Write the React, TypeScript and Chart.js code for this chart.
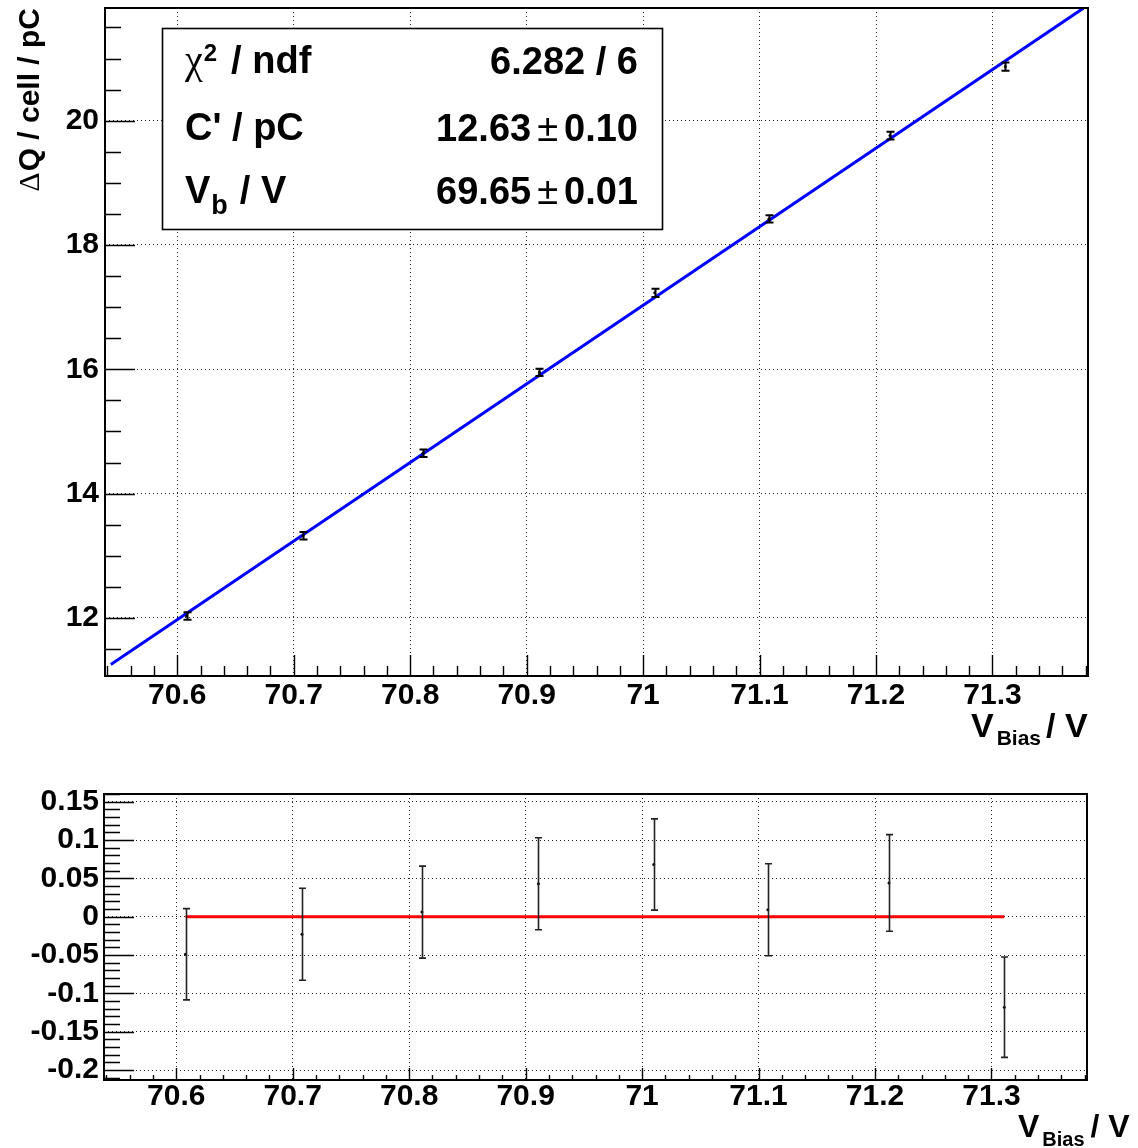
import React, { useEffect, useRef } from 'react';
import { Chart, registerables } from 'chart.js';

Chart.register(...registerables);

// ---------- data ----------
const vBias = [70.608, 70.708, 70.811, 70.911, 71.01, 71.108, 71.212, 71.311];
const deltaQ = [12.03, 13.32, 14.65, 15.95, 17.23, 18.42, 19.76, 20.87];
const deltaQErr = [0.06, 0.06, 0.06, 0.06, 0.065, 0.06, 0.063, 0.065];
const residuals = [-0.049, -0.023, 0.006, 0.043, 0.068, 0.009, 0.044, -0.118];
const residualErr = [0.0595, 0.06, 0.06, 0.06, 0.0595, 0.06, 0.063, 0.0655];

const fitLineX = [70.543, 71.378];
const fitLineY = [11.25, 21.81];
const zeroLineX = [70.608, 71.311];
const zeroLineY = [0, 0];

const xTicks = [70.6, 70.7, 70.8, 70.9, 71.0, 71.1, 71.2, 71.3];
const xTickLabels = ['70.6', '70.7', '70.8', '70.9', '71', '71.1', '71.2', '71.3'];
const topYTicks = [12, 14, 16, 18, 20];
const topYTickLabels = ['12', '14', '16', '18', '20'];
const resYTicks = [-0.2, -0.15, -0.1, -0.05, 0, 0.05, 0.1, 0.15];
const resYTickLabels = ['-0.2', '-0.15', '-0.1', '-0.05', '0', '0.05', '0.1', '0.15'];

const xRange = [70.538, 71.382];
const topYRange = [11.065, 21.813];
const resYRange = [-0.213, 0.16];

const statValues = ['6.282 / 6', '12.63 ± 0.10', '69.65 ± 0.01'];
const yTitle = ['Δ', 'Q / cell / pC'];

const SANS = '"Liberation Sans", Arial, Helvetica, sans-serif';
const SERIF = '"Liberation Serif", "Times New Roman", serif';

function axisOpts(
  min: number,
  max: number,
  ticks: number[],
  labels: string[],
  sizeKey: 'width' | 'height',
  size: number,
  pad: number
) {
  return {
    type: 'linear',
    min,
    max,
    afterBuildTicks: (s: any) => {
      s.ticks = ticks.map((v) => ({ value: v }));
    },
    afterFit: (s: any) => {
      s[sizeKey] = size;
      s.paddingTop = 0;
      s.paddingBottom = 0;
      s.paddingLeft = 0;
      s.paddingRight = 0;
    },
    ticks: {
      autoSkip: false,
      maxRotation: 0,
      minRotation: 0,
      padding: pad,
      color: '#000',
      font: { family: SANS, size: 30, weight: 'bold' },
      callback: (v: number) => {
        const i = ticks.findIndex((t) => Math.abs(t - v) < 1e-9);
        return i >= 0 ? labels[i] : '';
      },
    },
    grid: { drawTicks: false, color: '#222', lineWidth: 1 },
    border: { display: false, dash: [1, 3] },
  };
}

interface DecorOpts {
  xMinor: number;
  xMajor: number;
  yMinor: number;
  yMajor: number;
  xMajLen: number;
  xMinLen: number;
  yMajLen: number;
  yMinLen: number;
  ex: number[];
  ey: number[];
  ee: number[];
  cap: number;
  errWidth: number;
  errColor: string;
  title: { x: number; base: number; big: number; sub: number; subDrop: number; gap1: number; gap2: number };
  stats: boolean;
  yTitle: boolean;
}

function decorPlugin(o: DecorOpts) {
  return {
    id: 'decor',
    afterDatasetsDraw(chart: any) {
      const ctx: CanvasRenderingContext2D = chart.ctx;
      const a = chart.chartArea;
      const xs = chart.scales.x;
      const ys = chart.scales.y;

      // error bars
      ctx.save();
      ctx.beginPath();
      ctx.rect(a.left, a.top, a.right - a.left, a.bottom - a.top);
      ctx.clip();
      ctx.strokeStyle = o.errColor;
      ctx.lineWidth = o.errWidth;
      ctx.beginPath();
      for (let i = 0; i < o.ex.length; i++) {
        const px = Math.round(xs.getPixelForValue(o.ex[i])) + 0.5;
        const y1 = ys.getPixelForValue(o.ey[i] + o.ee[i]);
        const y2 = ys.getPixelForValue(o.ey[i] - o.ee[i]);
        ctx.moveTo(px, y1);
        ctx.lineTo(px, y2);
        ctx.moveTo(px - o.cap, y1);
        ctx.lineTo(px + o.cap, y1);
        ctx.moveTo(px - o.cap, y2);
        ctx.lineTo(px + o.cap, y2);
      }
      ctx.stroke();
      ctx.restore();

      // inward tick marks
      ctx.save();
      ctx.strokeStyle = '#000';
      ctx.lineWidth = 1.4;
      ctx.beginPath();
      const xn0 = Math.ceil(xs.min / o.xMinor - 1e-6);
      const xn1 = Math.floor(xs.max / o.xMinor + 1e-6);
      for (let n = xn0; n <= xn1; n++) {
        const v = n * o.xMinor;
        const r = v / o.xMajor;
        const major = Math.abs(r - Math.round(r)) < 1e-6;
        const px = Math.round(xs.getPixelForValue(v)) + 0.5;
        ctx.moveTo(px, a.bottom);
        ctx.lineTo(px, a.bottom - (major ? o.xMajLen : o.xMinLen));
      }
      const yn0 = Math.ceil(ys.min / o.yMinor - 1e-6);
      const yn1 = Math.floor(ys.max / o.yMinor + 1e-6);
      for (let n = yn0; n <= yn1; n++) {
        const v = n * o.yMinor;
        const r = v / o.yMajor;
        const major = Math.abs(r - Math.round(r)) < 1e-6;
        const py = Math.round(ys.getPixelForValue(v)) + 0.5;
        ctx.moveTo(a.left, py);
        ctx.lineTo(a.left + (major ? o.yMajLen : o.yMinLen), py);
      }
      ctx.stroke();
      // frame
      ctx.lineWidth = 2;
      ctx.strokeRect(a.left, a.top, a.right - a.left, a.bottom - a.top);
      ctx.restore();
    },
    afterDraw(chart: any) {
      const ctx: CanvasRenderingContext2D = chart.ctx;
      const a = chart.chartArea;
      ctx.save();
      ctx.fillStyle = '#000';
      ctx.textAlign = 'left';
      ctx.textBaseline = 'alphabetic';

      // x axis title: V_Bias / V
      const t = o.title;
      ctx.font = `bold ${t.big}px ${SANS}`;
      ctx.fillText('V', t.x, t.base);
      let cx = t.x + ctx.measureText('V').width + t.gap1;
      ctx.font = `bold ${t.sub}px ${SANS}`;
      ctx.fillText('Bias', cx, t.base + t.subDrop);
      cx += ctx.measureText('Bias').width + t.gap2;
      ctx.font = `bold ${t.big}px ${SANS}`;
      ctx.fillText('/ V', cx, t.base);

      if (o.yTitle) {
        ctx.save();
        ctx.translate(39, a.top);
        ctx.rotate(-Math.PI / 2);
        ctx.textAlign = 'left';
        ctx.font = `bold 30px ${SANS}`;
        const wRest = ctx.measureText(yTitle[1]).width;
        ctx.font = `30px ${SERIF}`;
        const wD = ctx.measureText(yTitle[0]).width;
        const start = -(wRest + wD + 1);
        ctx.fillText(yTitle[0], start, 0);
        ctx.font = `bold 30px ${SANS}`;
        ctx.fillText(yTitle[1], start + wD + 1, 0);
        ctx.restore();
      }

      if (o.stats) {
        const bx = a.left + 57;
        const by = a.top + 20;
        const bw = 500;
        const bh = 201;
        ctx.fillStyle = '#fff';
        ctx.fillRect(bx, by, bw, bh);
        ctx.strokeStyle = '#000';
        ctx.lineWidth = 1.6;
        ctx.strokeRect(bx + 0.5, by + 0.5, bw, bh);
        ctx.fillStyle = '#000';
        const lx = bx + 23;
        const bases = [by + 45, by + 112, by + 175];
        // row 1: chi^2 / ndf
        ctx.font = `40px ${SERIF}`;
        ctx.fillText('χ', lx, bases[0]);
        let px = lx + ctx.measureText('χ').width + 1;
        ctx.font = `bold 24px ${SANS}`;
        ctx.fillText('2', px, bases[0] - 12);
        px += ctx.measureText('2').width + 4;
        ctx.font = `bold 38px ${SANS}`;
        ctx.fillText('/ ndf', px + 10, bases[0]);
        // row 2
        ctx.fillText("C' / pC", lx, bases[1]);
        // row 3
        ctx.fillText('V', lx, bases[2]);
        px = lx + ctx.measureText('V').width + 1;
        ctx.font = `bold 27px ${SANS}`;
        ctx.fillText('b', px, bases[2] + 11);
        px += ctx.measureText('b').width + 6;
        ctx.font = `bold 38px ${SANS}`;
        ctx.fillText('/ V', px + 6, bases[2]);

        // values, right aligned
        const rx = bx + 476;
        ctx.textAlign = 'right';
        ctx.fillText(statValues[0], rx, bases[0] + 1);
        for (let r = 1; r < 3; r++) {
          const [left, right] = statValues[r].split(' ± ');
          ctx.font = `bold 38px ${SANS}`;
          ctx.fillText(right, rx, bases[r] + 1);
          const wr = ctx.measureText(right).width;
          ctx.font = `38px ${SANS}`;
          ctx.fillText('±', rx - wr - 6, bases[r] + 1);
          const wp = ctx.measureText('±').width;
          ctx.font = `bold 38px ${SANS}`;
          ctx.fillText(left, rx - wr - 6 - wp - 6, bases[r] + 1);
        }
      }
      ctx.restore();
    },
  };
}

function topConfig(): any {
  return {
    type: 'scatter',
    data: {
      datasets: [
        {
          label: 'fit',
          data: fitLineX.map((x, i) => ({ x, y: fitLineY[i] })),
          showLine: true,
          borderColor: '#0000ff',
          borderWidth: 3,
          pointRadius: 0,
          order: 2,
        },
        {
          label: 'data',
          data: vBias.map((x, i) => ({ x, y: deltaQ[i] })),
          showLine: false,
          pointRadius: 1.5,
          pointBackgroundColor: '#000',
          pointBorderWidth: 0,
          order: 1,
        },
      ],
    },
    options: {
      responsive: false,
      animation: false,
      events: [],
      layout: { padding: { left: 0, top: 8, right: 50, bottom: 0 } },
      plugins: { legend: { display: false }, tooltip: { enabled: false } },
      scales: {
        x: axisOpts(xRange[0], xRange[1], xTicks, xTickLabels, 'height', 84, 2),
        y: axisOpts(topYRange[0], topYRange[1], topYTicks, topYTickLabels, 'width', 105, 6),
      },
    },
    plugins: [
      decorPlugin({
        xMinor: 0.02,
        xMajor: 0.1,
        yMinor: 0.5,
        yMajor: 2,
        xMajLen: 21,
        xMinLen: 10,
        yMajLen: 30,
        yMinLen: 16,
        ex: vBias,
        ey: deltaQ,
        ee: deltaQErr,
        cap: 4,
        errWidth: 2,
        errColor: '#000',
        title: { x: 971, base: 737, big: 34, sub: 21, subDrop: 8, gap1: 3, gap2: 5 },
        stats: true,
        yTitle: true,
      }),
    ],
  };
}

function botConfig(): any {
  return {
    type: 'scatter',
    data: {
      datasets: [
        {
          label: 'zero',
          data: zeroLineX.map((x, i) => ({ x, y: zeroLineY[i] })),
          showLine: true,
          borderColor: '#ff0000',
          borderWidth: 3,
          pointRadius: 0,
          order: 2,
        },
        {
          label: 'residuals',
          data: vBias.map((x, i) => ({ x, y: residuals[i] })),
          showLine: false,
          pointRadius: 1.5,
          pointBackgroundColor: '#000',
          pointBorderWidth: 0,
          order: 1,
        },
      ],
    },
    options: {
      responsive: false,
      animation: false,
      events: [],
      layout: { padding: { left: 0, top: 34, right: 51, bottom: 0 } },
      plugins: { legend: { display: false }, tooltip: { enabled: false } },
      scales: {
        x: axisOpts(xRange[0], xRange[1], xTicks, xTickLabels, 'height', 68, -1),
        y: axisOpts(resYRange[0], resYRange[1], resYTicks, resYTickLabels, 'width', 104, 5),
      },
    },
    plugins: [
      decorPlugin({
        xMinor: 0.02,
        xMajor: 0.1,
        yMinor: 0.01,
        yMajor: 0.05,
        xMajLen: 12,
        xMinLen: 5,
        yMajLen: 30,
        yMinLen: 16,
        ex: vBias,
        ey: residuals,
        ee: residualErr,
        cap: 3.5,
        errWidth: 1.6,
        errColor: '#222',
        title: { x: 1018, base: 377, big: 32, sub: 20, subDrop: 9, gap1: 3, gap2: 6 },
        stats: false,
        yTitle: false,
      }),
    ],
  };
}

export default function App() {
  const topRef = useRef<HTMLCanvasElement>(null);
  const botRef = useRef<HTMLCanvasElement>(null);

  useEffect(() => {
    const top = new Chart(topRef.current as HTMLCanvasElement, topConfig());
    const bot = new Chart(botRef.current as HTMLCanvasElement, botConfig());
    return () => {
      top.destroy();
      bot.destroy();
    };
  }, []);

  return (
    <div style={{ position: 'absolute', left: 0, top: 0, width: 1138, height: 1148, background: '#fff' }}>
      <canvas ref={topRef} width={1138} height={760} style={{ position: 'absolute', left: 0, top: 0 }} />
      <canvas ref={botRef} width={1138} height={388} style={{ position: 'absolute', left: 0, top: 760 }} />
    </div>
  );
}
